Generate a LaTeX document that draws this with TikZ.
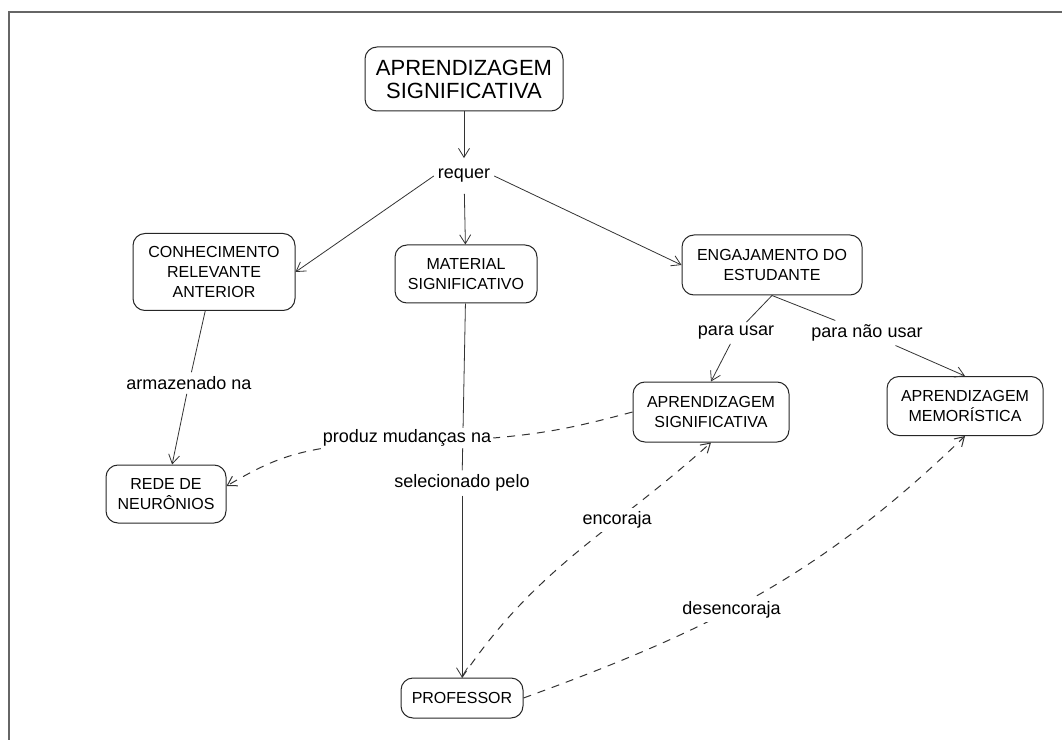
\documentclass[tikz,border=0pt]{standalone}
\usepackage{fontspec}
\setmainfont{Liberation Sans}
\usetikzlibrary{arrows.meta}
\tikzset{cbox/.style={draw=black!85, line width=1pt, rounded corners=12pt, align=center,
		inner sep=0pt, font=\fontsize{16}{20}\selectfont},
	phrase/.style={fill=white, inner sep=4pt, font=\fontsize{18}{20}\selectfont},
	conn/.style={draw=black!80, line width=0.8pt, -{Straight Barb[length=9pt,width=11pt]}},
	dconn/.style={conn, line width=1pt, dash pattern=on 8pt off 7pt}}

\begin{document}
\begin{tikzpicture}[x=1pt,y=1pt]
		\useasboundingbox (0,0) rectangle (1062,740);
		\draw[black!60, line width=1.7pt] (1062,728) -- (9,728) -- (9,0);
		%		concepts
		\node[cbox, minimum width=198pt, minimum height=64pt, font=\fontsize{22}{23}\selectfont] (topo) at (464,661){APRENDIZAGEM\\SIGNIFICATIVA};
		\node[cbox, minimum width=162pt, minimum height=77pt] (conh) at (214,468){CONHECIMENTO\\RELEVANTE\\ANTERIOR};
		\node[cbox, minimum width=142pt, minimum height=58pt] (mat) at (466,466){MATERIAL\\SIGNIFICATIVO};
		\node[cbox, minimum width=180pt, minimum height=60pt] (eng) at (772,475){ENGAJAMENTO DO\\ESTUDANTE};
		\node[cbox, minimum width=120pt, minimum height=58pt] (rede) at (166,246){REDE DE\\NEURÔNIOS};
		\node[cbox, minimum width=156pt, minimum height=60pt] (signif) at (711,328){APRENDIZAGEM\\SIGNIFICATIVA};
		\node[cbox, minimum width=156pt, minimum height=59pt] (memor) at (965,334){APRENDIZAGEM\\MEMORÍSTICA};
		\node[cbox, minimum width=122pt, minimum height=40pt] (prof) at (462,42){PROFESSOR};
		%		linking words
		\node[phrase, inner ysep=11pt] (requer) at (464,564){requer};
		\node[phrase] (armaz) at (189,357){armazenado na};
		\node[phrase] (selec) at (462,257){selecionado pelo};
		\node[phrase] (parausar) at (736,407){para usar};
		\node[phrase] (paranao) at (867,407){para não usar};
		\draw[conn] (topo) to (requer);
		\draw[conn] (requer.west) to (conh.east);
		\draw[conn] (requer) to (mat);
		\draw[conn] (requer.east) to (eng.west);
		\draw[-, black!80, line width=0.8pt] (conh) to (armaz);
		\draw[conn] (armaz) to (rede);
		\draw[-, black!80, line width=0.8pt] (mat) to (selec);
		\draw[conn] (selec) to (prof);
		\draw[-, black!80, line width=0.8pt] (eng.south) to (parausar);
		\draw[conn] (parausar) to (signif.north);
		\draw[-, black!80, line width=0.8pt] (eng.south) to (paranao);
		\draw[conn] (paranao) to (memor.north);
		\node[phrase, inner sep=2pt] (produz) at (407,302){produz mudanças na};
		\draw[dconn, -] (signif.west) to[out=195, in=5] (produz.east);
		\draw[dconn] (produz.south west) to[out=190, in=30] ([yshift=8pt]rede.east);
		\draw[dconn] (prof.north) to[out=56, in=222] node[phrase, pos=0.66]{encoraja} (signif.south);
		\draw[dconn] (prof.east) to[out=20, in=224] node[phrase, pos=0.43]{desencoraja} (memor.south);
\end{tikzpicture}
\end{document}
